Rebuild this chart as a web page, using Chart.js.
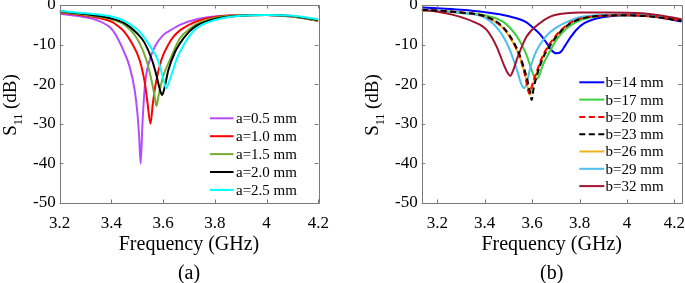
<!DOCTYPE html>
<html><head><meta charset="utf-8">
<script src="https://cdn.jsdelivr.net/npm/chart.js@4/dist/chart.umd.min.js"></script>
<style>
html,body{margin:0;padding:0;background:#fff;overflow:hidden;width:685px;height:283px;}
#wrapA{position:absolute;left:0;top:0;width:340px;height:283px;}
#wrapB{position:absolute;left:340px;top:0;width:345px;height:283px;}
canvas{display:block;}
</style></head><body>
<div id="wrapA"><canvas id="cA" width="340" height="283"></canvas></div>
<div id="wrapB"><canvas id="cB" width="345" height="283"></canvas></div>
<script>
// ---------- data: panel (a) ----------
const labelsA = ['a=0.5 mm','a=1.0 mm','a=1.5 mm','a=2.0 mm','a=2.5 mm'];
const fA05 = [3.2,3.3,3.35,3.4,3.425,3.45,3.47,3.49,3.5,3.507,3.513,3.52,3.53,3.55,3.57,3.6,3.62,3.665,3.73,3.8,3.92,4.0,4.1,4.2];
const sA05 = [-2.2,-3.1,-4.0,-6.0,-8.5,-12,-15.5,-21.5,-27,-33,-40,-30,-20,-13.5,-10.3,-7.6,-6.7,-5.0,-3.6,-2.9,-2.5,-2.5,-2.9,-4.0];
const fA10 = [3.2,3.32,3.4,3.425,3.45,3.476,3.509,3.53,3.54,3.551,3.56,3.571,3.593,3.62,3.64,3.665,3.7,3.73,3.8,3.92,4.0,4.1,4.2];
const sA10 = [-1.9,-2.9,-4.2,-5.3,-6.8,-9.3,-13.9,-20,-25,-30,-25,-20,-13.9,-10,-8,-6.4,-5.0,-4.1,-3.0,-2.5,-2.5,-2.9,-4.0];
const fA15 = [3.2,3.3,3.4,3.45,3.5,3.535,3.555,3.567,3.574,3.582,3.6,3.626,3.665,3.7,3.73,3.8,3.9,4.0,4.1,4.2];
const sA15 = [-1.8,-2.5,-3.6,-5.0,-8.6,-13.9,-19,-23,-25.5,-23,-18,-13.9,-8.4,-6.2,-4.8,-3.3,-2.6,-2.5,-2.9,-4.0];
const fA20 = [3.2,3.3,3.4,3.45,3.5,3.528,3.557,3.575,3.588,3.596,3.605,3.62,3.645,3.665,3.7,3.73,3.8,3.9,4.0,4.1,4.2];
const sA20 = [-1.6,-2.3,-3.4,-4.6,-7.2,-9.5,-13.9,-18,-21.5,-22.7,-21,-16.5,-12,-9.7,-6.8,-5.2,-3.5,-2.7,-2.5,-2.8,-3.8];
const fA25 = [3.2,3.3,3.4,3.45,3.5,3.53,3.555,3.58,3.6,3.612,3.625,3.651,3.665,3.7,3.73,3.8,3.9,4.0,4.1,4.2];
const sA25 = [-1.5,-2.1,-2.9,-4.0,-6.2,-8.5,-11,-13.9,-18.5,-21,-19,-13.9,-11.8,-8,-5.8,-3.8,-2.7,-2.5,-2.7,-3.6];
const xTicksA = [3.2,3.4,3.6,3.8,4,4.2];

// ---------- data: panel (b) ----------
const labelsB = ['b=14 mm','b=17 mm','b=20 mm','b=23 mm','b=26 mm','b=29 mm','b=32 mm'];
const fB14 = [3.134,3.2,3.3,3.4,3.477,3.547,3.576,3.603,3.632,3.66,3.68,3.702,3.72,3.74,3.758,3.786,3.82,3.86,3.92,4.0,4.1,4.231];
const sB14 = [-0.6,-0.8,-1.2,-1.8,-2.5,-3.6,-4.4,-5.7,-7.3,-9.5,-11.3,-12.2,-11.9,-10.2,-8.5,-6.3,-4.6,-3.6,-2.9,-2.6,-2.8,-4.2];
const fB17 = [3.134,3.2,3.3,3.4,3.477,3.534,3.56,3.576,3.59,3.603,3.612,3.62,3.63,3.645,3.674,3.702,3.744,3.786,3.85,3.95,4.05,4.15,4.231];
const sB17 = [-1.3,-1.5,-2.0,-2.6,-4.2,-7.8,-10.5,-12.6,-15,-17.3,-18.4,-18.6,-17.8,-15.2,-11.8,-8.8,-6.0,-4.3,-3.1,-2.6,-2.6,-3.0,-3.9];
const fB20 = [3.134,3.2,3.3,3.4,3.463,3.505,3.547,3.565,3.576,3.584,3.588,3.595,3.605,3.618,3.645,3.674,3.716,3.758,3.8,3.9,4.0,4.1,4.231];
const sB20 = [-1.2,-1.4,-1.9,-2.9,-5.0,-7.9,-13,-16.6,-19.4,-21.8,-22.3,-21.2,-19.2,-17,-12.8,-9.8,-6.7,-4.6,-3.5,-2.7,-2.6,-2.9,-4.0];
const fB23 = [3.134,3.2,3.3,3.4,3.463,3.505,3.547,3.565,3.58,3.59,3.598,3.605,3.618,3.645,3.674,3.716,3.758,3.8,3.9,4.0,4.1,4.231];
const sB23 = [-1.2,-1.4,-1.9,-2.8,-4.8,-7.7,-12.5,-15.8,-19,-21.8,-24,-21.5,-18.2,-13.5,-10.4,-7,-4.8,-3.6,-2.7,-2.6,-2.9,-4.0];
const fB26 = [3.134,3.2,3.3,3.4,3.463,3.505,3.547,3.565,3.576,3.585,3.59,3.597,3.605,3.618,3.645,3.674,3.716,3.758,3.8,3.9,4.0,4.1,4.231];
const sB26 = [-1.2,-1.4,-1.9,-2.9,-5.0,-8.0,-13,-16.5,-19.2,-22,-22.7,-21.5,-19.8,-17.4,-13,-10,-6.8,-4.7,-3.5,-2.7,-2.6,-2.9,-4.0];
const fB29 = [3.134,3.2,3.3,3.4,3.463,3.505,3.525,3.54,3.553,3.566,3.578,3.59,3.618,3.66,3.702,3.758,3.8,3.9,4.0,4.1,4.231];
const sB29 = [-1.2,-1.4,-2.0,-3.2,-6.6,-11.2,-14.5,-17.2,-19.8,-21,-19.5,-16.4,-11.6,-7.8,-5.7,-4.0,-3.1,-2.5,-2.4,-2.7,-3.7];
const fB32 = [3.134,3.2,3.267,3.351,3.408,3.45,3.484,3.498,3.508,3.518,3.54,3.576,3.632,3.674,3.716,3.8,3.92,4.064,4.15,4.231];
const sB32 = [-1.3,-1.7,-2.5,-4.2,-6.3,-10.5,-15.6,-17.3,-17.9,-16.8,-13,-8.0,-4.6,-3.0,-2.3,-1.9,-1.9,-2.1,-2.7,-3.6];
const xTicksB = [3.2,3.4,3.6,3.8,4,4.2];

const yTicks = [-50,-40,-30,-20,-10,0];

// ---------- styles ----------
const colorsA = ['#b44dff','#ff0000','#77ac30','#000000','#00ffff'];
const colorsB = ['#0000ff','#3ccf3c','#ff0000','#000000','#edb120','#4dbeee','#a2142f'];
const dashB = [[],[],[6,3.5],[6,3.5],[],[],[]];
const orderB = [5,4,-2,-3,6,3,2];

const SERIF = "'Liberation Serif','Times New Roman',serif";

function seriesData(f, s){ return f.map((x,i)=>({x:x, y:s[i]})); }

const framePlugin = {
  id:'frame',
  afterDatasetsDraw(chart, args, opts){
    const ctx = chart.ctx, a = chart.chartArea;
    const xs = chart.scales.x, ys = chart.scales.y;
    ctx.save();
    ctx.strokeStyle = '#7a7a7a';
    ctx.lineWidth = 1;
    ctx.beginPath();
    ctx.rect(Math.round(a.left)+0.5, Math.round(a.top)+0.5, Math.round(a.right-a.left), Math.round(a.bottom-a.top));
    const tl = 3.5;
    xs.ticks.forEach(t=>{
      const p = Math.round(xs.getPixelForValue(t.value))+0.5;
      ctx.moveTo(p, a.bottom); ctx.lineTo(p, a.bottom-tl);
      ctx.moveTo(p, a.top); ctx.lineTo(p, a.top+tl);
    });
    ys.ticks.forEach(t=>{
      const p = Math.round(ys.getPixelForValue(t.value))+0.5;
      ctx.moveTo(a.left, p); ctx.lineTo(a.left+tl, p);
      ctx.moveTo(a.right, p); ctx.lineTo(a.right-tl, p);
    });
    ctx.stroke();

    // legend
    const L = opts.legend;
    ctx.font = '15px ' + SERIF;
    ctx.textBaseline = 'middle';
    ctx.textAlign = 'left';
    chart.data.datasets.forEach((d,i)=>{
      const y = L.y0 + i*L.dy;
      ctx.save();
      ctx.strokeStyle = d.borderColor;
      ctx.lineWidth = 2;
      ctx.setLineDash(d.borderDash || []);
      ctx.beginPath(); ctx.moveTo(L.x0, y); ctx.lineTo(L.x1, y); ctx.stroke();
      ctx.restore();
      ctx.fillStyle = '#000';
      ctx.fillText(d.label, L.tx, y+1);
    });

    // y label with subscript
    ctx.save();
    ctx.translate(opts.ylab.x, opts.ylab.y);
    ctx.rotate(-Math.PI/2);
    ctx.fillStyle = '#000';
    ctx.textBaseline = 'alphabetic';
    const fMain = '19px ' + SERIF, fSub = '12px ' + SERIF;
    ctx.font = fMain; const wS = ctx.measureText('S').width; const wR = ctx.measureText(' (dB)').width;
    ctx.font = fSub; const wSub = ctx.measureText('11').width;
    let x = -(wS + wSub + wR)/2;
    ctx.font = fMain; ctx.fillText('S', x, 0); x += wS;
    ctx.font = fSub; ctx.fillText('11', x, 6.5); x += wSub;
    ctx.font = fMain; ctx.fillText(' (dB)', x, 0);
    ctx.restore();
    ctx.restore();
  }
};

function makeChart(id, cfg){
  const datasets = cfg.f.map((f,i)=>({
    label: cfg.labels[i],
    data: seriesData(f, cfg.s[i]),
    borderColor: cfg.colors[i],
    backgroundColor: cfg.colors[i],
    borderWidth: 2,
    borderDash: (cfg.dash && cfg.dash[i]) || [],
    pointRadius: 0,
    cubicInterpolationMode: 'monotone',
    fill: false,
    order: cfg.order ? cfg.order[i] : -i
  }));
  return new Chart(document.getElementById(id), {
    type:'line',
    data:{datasets},
    plugins:[framePlugin],
    options:{
      responsive:false, animation:false, devicePixelRatio:1,
      layout:{padding:{left:0, right:cfg.padRight, top:5, bottom:0}},
      plugins:{legend:{display:false}, tooltip:{enabled:false},
        frame:{legend:cfg.legend, ylab:cfg.ylab}},
      scales:{
        x:{type:'linear', position:'bottom', min:cfg.xmin, max:cfg.xmax,
          afterBuildTicks: s=>{ s.ticks = cfg.xTicks.map(v=>({value:v})); },
          ticks:{font:{family:SERIF, size:17}, color:'#000', padding:10, maxRotation:0, autoSkip:false,
            callback: v => String(+v.toFixed(1))},
          grid:{display:false, drawTicks:false}, border:{display:false},
          title:{display:true, text:['Frequency (GHz)', cfg.tag], color:'#000',
            font:{family:SERIF, size:20, lineHeight:1.45}, padding:{top:0, bottom:-5.5}},
          afterFit: s=>{ s.height = 80; s.paddingLeft = 0; s.paddingRight = 0; }
        },
        y:{type:'linear', min:-50, max:0,
          afterBuildTicks: s=>{ s.ticks = yTicks.map(v=>({value:v})); },
          ticks:{font:{family:SERIF, size:17}, color:'#000', padding:4,
            callback: v => String(v)},
          grid:{display:false, drawTicks:false}, border:{display:false},
          afterFit: s=>{ s.width = cfg.yWidth; s.paddingTop = 0; s.paddingBottom = 0; }
        }
      }
    }
  });
}

makeChart('cA', {
  labels: labelsA, f:[fA05,fA10,fA15,fA20,fA25], s:[sA05,sA10,sA15,sA20,sA25],
  colors: colorsA, xmin:3.2, xmax:4.2, xTicks:xTicksA, tag:'(a)',
  yWidth:59.7, padRight:21.7,
  legend:{x0:210, x1:233.5, tx:236, y0:118.3, dy:17.9},
  ylab:{x:15.5, y:105}
});
makeChart('cB', {
  labels: labelsB, f:[fB14,fB17,fB20,fB23,fB26,fB29,fB32], s:[sB14,sB17,sB20,sB23,sB26,sB29,sB32],
  colors: colorsB, dash: dashB, order: orderB, xmin:3.134, xmax:4.231, xTicks:xTicksB, tag:'(b)',
  yWidth:81.7, padRight:3.3,
  legend:{x0:239.3, x1:264.3, tx:265.5, y0:82.3, dy:17.3},
  ylab:{x:37.5, y:105}
});
</script>
</body></html>
